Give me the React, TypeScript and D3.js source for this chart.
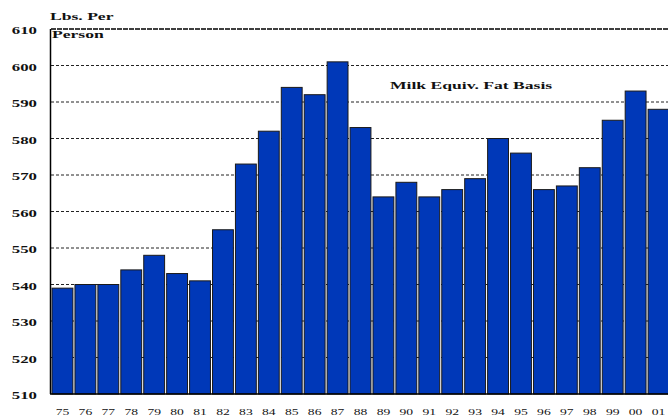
import React from "react";
import * as d3 from "d3";

// Per-capita dairy consumption, milk-equivalent fat basis (lbs. per person)
const years: string[] = [
  "75", "76", "77", "78", "79", "80", "81", "82", "83", "84", "85", "86", "87", "88",
  "89", "90", "91", "92", "93", "94", "95", "96", "97", "98", "99", "00", "01",
];
const pounds: number[] = [
  539, 540, 540, 544, 548, 543, 541, 555, 573, 582, 594, 592, 601, 583,
  564, 568, 564, 566, 569, 580, 576, 566, 567, 572, 585, 593, 588,
];
const yTicks: number[] = [510, 520, 530, 540, 550, 560, 570, 580, 590, 600, 610];

const W = 668;
const H = 416;
const left = 51;
const top = 29;
const bottom = 394;
const right = 670;
const SX = 1.6; // wide lettering
const FONT = "'Liberation Serif', 'Times New Roman', serif";

export default function App() {
  const x = d3
    .scaleBand<string>()
    .domain(years)
    .range([left, right])
    .paddingInner(0.09)
    .paddingOuter(0.045);
  const y = d3.scaleLinear().domain([510, 610]).range([bottom, top]);

  const label = (
    tx: number,
    ty: number,
    text: string,
    size: number,
    anchor: "start" | "middle" | "end",
    weight: string | number = "normal"
  ) => (
    <text
      key={`${text}-${tx}-${ty}`}
      transform={`translate(${tx},${ty}) scale(${SX},1)`}
      fontFamily={FONT}
      fontSize={size}
      fontWeight={weight}
      textAnchor={anchor}
      fill="#111"
    >
      {text}
    </text>
  );

  return (
    <svg
      width={W}
      height={H}
      style={{ position: "absolute", left: 0, top: 0, background: "#fff" }}
    >
      {/* grid */}
      {yTicks.slice(1).map((t) => (
        <line
          key={t}
          x1={left}
          x2={W}
          y1={y(t)}
          y2={y(t)}
          stroke={t === 610 ? "#000" : "#222"}
          strokeWidth={t === 610 ? 1.4 : 1}
          strokeDasharray={t === 610 ? "5,1" : "3,2"}
        />
      ))}

      {/* bars */}
      {years.map((yr, i) => (
        <rect
          key={yr}
          x={x(yr)!}
          y={y(pounds[i])}
          width={x.bandwidth()}
          height={bottom - y(pounds[i])}
          fill="#0038B8"
          stroke="#1a1a1a"
          strokeWidth={1}
        />
      ))}

      {/* axes */}
      <line x1={left - 0.5} x2={left - 0.5} y1={top} y2={bottom} stroke="#000" strokeWidth={1.5} />
      <line x1={left - 1} x2={W} y1={bottom} y2={bottom} stroke="#000" strokeWidth={1.5} />

      {/* y tick labels */}
      {yTicks.map((t) => label(37, y(t) + 5, String(t), 10.5, "end", "bold"))}

      {/* x tick labels */}
      {years.map((yr) => label(x(yr)! + x.bandwidth() / 2, 415, yr, 8.5, "middle"))}

      {/* titles */}
      {label(50, 20, "Lbs. Per", 11, "start", "bold")}
      {label(52, 38, "Person", 11, "start", "bold")}
      {label(390, 89, "Milk Equiv. Fat Basis", 11, "start", "bold")}
    </svg>
  );
}
